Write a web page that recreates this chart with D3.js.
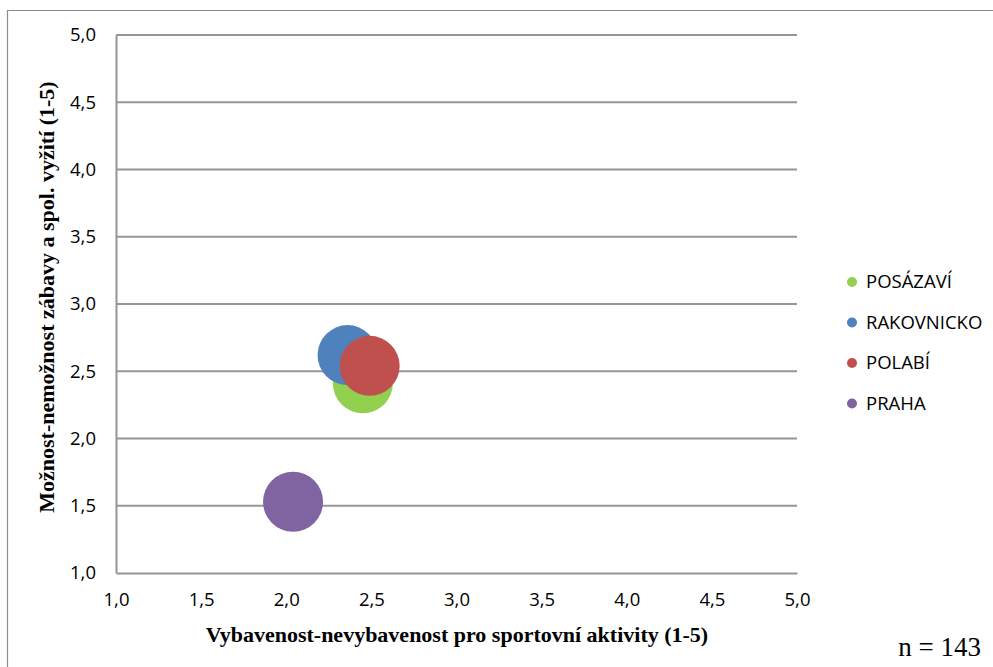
<!DOCTYPE html>
<html><head><meta charset="utf-8">
<script src="https://cdn.jsdelivr.net/npm/d3@7"></script>
<style>body{margin:0;background:#fff}svg{display:block}</style>
</head><body>
<script>
const series = ["POSÁZAVÍ","RAKOVNICKO","POLABÍ","PRAHA"];
const xValues = [2.45, 2.36, 2.49, 2.04];
const yValues = [2.41, 2.62, 2.54, 1.53];
const sizes = [36, 36, 36, 36];
const colors = ["#92d050","#4f81bd","#c0504d","#8064a2"];
const tickValues = [1.0,1.5,2.0,2.5,3.0,3.5,4.0,4.5,5.0];
const xTitle = "Vybavenost-nevybavenost pro sportovní aktivity (1-5)";
const yTitle = "Možnost-nemožnost zábavy a spol. vyžití (1-5)";
const note = "n = 143";

const W=993,H=667;
const svg=d3.select("body").append("svg").attr("width",W).attr("height",H);
svg.append("path").attr("d","M7.5,667 V10.5 H993").attr("fill","none").attr("stroke","#8c8c8c").attr("stroke-width",1.2);

const x=d3.scaleLinear().domain([1,5]).range([116,797]);
const y=d3.scaleLinear().domain([1,5]).range([573,35]);
const fmt=d=>d.toFixed(1).replace(".",",");
const tickFont="'Open Sans', 'Noto Sans', sans-serif";

// grid
svg.append("g").selectAll("line").data(tickValues.slice(1)).join("line")
  .attr("x1",116).attr("x2",797).attr("y1",d=>y(d)).attr("y2",d=>y(d))
  .attr("stroke","#969696").attr("stroke-width",2);

const xa=svg.append("g").attr("transform","translate(0,573)").call(d3.axisBottom(x).tickValues(tickValues).tickFormat(fmt).tickSize(0).tickPadding(20));
xa.select(".domain").attr("stroke","#969696").attr("stroke-width",2);
xa.selectAll("text").attr("font-family",tickFont).attr("font-size",18.5).attr("fill","#000");
const ya=svg.append("g").attr("transform","translate(116,0)").call(d3.axisLeft(y).tickValues(tickValues).tickFormat(fmt).tickSize(0).tickPadding(20));
ya.select(".domain").attr("stroke","#969696").attr("stroke-width",2);
ya.selectAll("text").attr("font-family",tickFont).attr("font-size",18.5).attr("fill","#000");

const r=d3.scaleSqrt().domain([0,36]).range([0,30]);
svg.append("g").selectAll("circle").data(series.map((s,i)=>i)).join("circle")
  .attr("cx",i=>x(xValues[i])).attr("cy",i=>y(yValues[i])).attr("r",i=>r(sizes[i])).attr("fill",i=>colors[i]);

svg.append("text").attr("x",457).attr("y",642).attr("text-anchor","middle")
  .attr("font-family","'Liberation Serif', serif").attr("font-weight","bold").attr("font-size",22).text(xTitle);
svg.append("text").attr("transform","translate(54,297) rotate(-90)").attr("text-anchor","middle")
  .attr("font-family","'Liberation Serif', serif").attr("font-weight","bold").attr("font-size",22).text(yTitle);
svg.append("text").attr("x",981).attr("y",656).attr("text-anchor","end")
  .attr("font-family","'Liberation Serif', serif").attr("font-size",27).text(note);

const lg=svg.append("g").selectAll("g").data(series).join("g").attr("transform",(d,i)=>`translate(852,${282+i*40.5})`);
lg.append("circle").attr("r",5).attr("fill",(d,i)=>colors[i]);
lg.append("text").attr("x",14).attr("dy","0.35em").attr("font-family",tickFont).attr("font-size",18.5).text(d=>d);
</script>
</body></html>
